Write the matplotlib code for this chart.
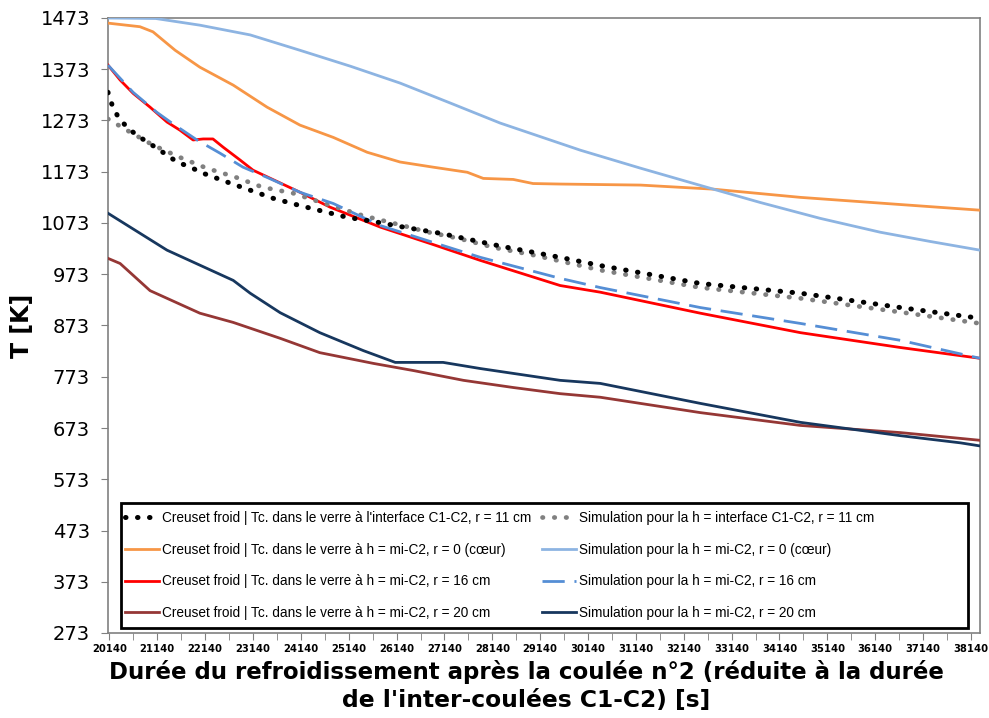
import matplotlib
matplotlib.use("Agg")
import matplotlib.pyplot as plt
from matplotlib.ticker import MultipleLocator, FixedLocator
from matplotlib.patches import Rectangle

# ---------------- data ----------------
t_or = [20110, 20777, 21050, 21514, 22030, 22727, 23434, 24121, 24818, 25526,
        26213, 26900, 27617, 27951, 28577, 28991, 29557, 31235, 32760, 34579,
        36670, 38330]
T_or = [1463, 1456, 1446, 1410, 1377, 1342, 1299, 1264, 1240, 1211,
        1192, 1182, 1172, 1160, 1158, 1150, 1149, 1147, 1139, 1123,
        1109, 1098]

t_lb = [20110, 21110, 22030, 23081, 24121, 25172, 26213, 27264, 28304, 29982,
        31235, 32760, 33740, 34993, 36246, 37287, 38330]
T_lb = [1473, 1472, 1459, 1440, 1410, 1379, 1346, 1307, 1268, 1215,
        1180, 1139, 1113, 1082, 1055, 1037, 1020]

t_red = [20110, 20363, 20635, 20989, 21343, 21615, 21888, 22100, 22303, 22515,
         22868, 23141, 24121, 24748, 25799, 26839, 27890, 29557, 30396, 32487,
         34579, 36670, 38330]
T_red = [1381, 1352, 1326, 1299, 1270, 1254, 1235, 1237, 1237, 1221,
         1196, 1176, 1133, 1104, 1065, 1033, 1000, 951, 938, 897,
         859, 830, 809]

t_bd = [20110, 20635, 21130, 21444, 21969, 22454, 22929, 23434, 24121, 24818,
        25799, 26839, 27890, 29557, 30396, 32487, 34579, 36670, 38330]
T_bd = [1381, 1328, 1289, 1268, 1235, 1209, 1182, 1162, 1133, 1111,
        1068, 1037, 1006, 965, 947, 908, 877, 844, 809]

t_bk = [20110, 20211, 20322, 20504, 20716, 21130, 21555, 21828, 22100, 22596,
        23081, 23566, 24121, 25111, 25657, 26284, 27051, 28304, 29557, 30396,
        32487, 34579, 36670, 38330]
T_bk = [1328, 1299, 1280, 1260, 1244, 1219, 1192, 1182, 1170, 1153,
        1137, 1121, 1107, 1084, 1076, 1065, 1053, 1028, 1006, 990,
        955, 936, 908, 887]

t_gr = [20110, 20504, 21050, 21615, 22171, 22788, 23333, 23980, 24435, 25415,
        26183, 26809, 27435, 28183, 29022, 30396, 32487, 34579, 36670, 38330]
T_gr = [1276, 1254, 1225, 1201, 1180, 1162, 1143, 1131, 1117, 1088,
        1070, 1055, 1043, 1025, 1010, 981, 947, 926, 899, 877]

t_nv = [20110, 21343, 22727, 23081, 23707, 24536, 25445, 26112, 27112, 27890,
        29557, 30396, 32487, 34579, 36670, 37923, 38330]
T_nv = [1092, 1020, 961, 936, 898, 859, 824, 801, 801, 789,
        766, 760, 721, 684, 658, 644, 638]

t_br = [20110, 20363, 20989, 22030, 22727, 23707, 24536, 25657, 26496, 27536,
        28577, 29557, 30396, 32487, 34579, 36670, 38330]
T_br = [1004, 994, 941, 897, 879, 848, 820, 799, 785, 766,
        752, 740, 733, 703, 678, 664, 649]

labels = [
    "Creuset froid | Tc. dans le verre à l'interface C1-C2, r = 11 cm",
    "Simulation pour la h = interface C1-C2, r = 11 cm",
    "Creuset froid | Tc. dans le verre à h = mi-C2, r = 0 (cœur)",
    "Simulation pour la h = mi-C2, r = 0 (cœur)",
    "Creuset froid | Tc. dans le verre à h = mi-C2, r = 16 cm",
    "Simulation pour la h = mi-C2, r = 16 cm",
    "Creuset froid | Tc. dans le verre à h = mi-C2, r = 20 cm",
    "Simulation pour la h = mi-C2, r = 20 cm",
]

yticks = list(range(273, 1474, 100))
xticks = list(range(20140, 38141, 1000))
xlim = (20110, 38330)

# ---------------- figure ----------------
fig = plt.figure(figsize=(9.89, 7.18), dpi=100)
W, H = 989, 718
AX0, AX1, AY0, AY1 = 108, 980, 18, 633
ax = fig.add_axes([AX0 / W, 1 - AY1 / H, (AX1 - AX0) / W, (AY1 - AY0) / H])

def fx(px):
    return (px - AX0) / (AX1 - AX0)

def fy(py):
    return (AY1 - py) / (AY1 - AY0)

h = {}
h[0], = ax.plot(t_bk, T_bk, color="black", lw=3.6, linestyle=(0, (0.1, 2.3)),
                dash_capstyle="round", zorder=5)
h[1], = ax.plot(t_gr, T_gr, color="#808080", lw=3.4, linestyle=(0, (0.1, 2.4)),
                dash_capstyle="round", zorder=4)
h[2], = ax.plot(t_or, T_or, color="#F79646", lw=2.0, zorder=3)
h[3], = ax.plot(t_lb, T_lb, color="#8DB4E2", lw=2.0, zorder=3)
h[4], = ax.plot(t_red, T_red, color="#FF0000", lw=2.0, zorder=3)
h[5], = ax.plot(t_bd, T_bd, color="#558ED5", lw=2.0, linestyle=(0, (8, 3.5)),
                zorder=4)
h[6], = ax.plot(t_br, T_br, color="#953735", lw=2.0, zorder=3)
h[7], = ax.plot(t_nv, T_nv, color="#17375E", lw=2.0, zorder=3)

ax.set_xlim(*xlim)
ax.set_ylim(273, 1473)
ax.yaxis.set_major_locator(FixedLocator(yticks))
ax.xaxis.set_major_locator(FixedLocator(xticks))
ax.xaxis.set_minor_locator(FixedLocator([v + 500 for v in xticks[:-1]]))
ax.set_xticklabels([str(v) for v in xticks], fontsize=7.2, fontweight="bold")
ax.set_yticklabels([str(v) for v in yticks], fontsize=14)

for s in ax.spines.values():
    s.set_color("#808080")
    s.set_linewidth(1.2)
ax.tick_params(axis="both", which="both", colors="#808080", labelcolor="black",
               direction="out")
ax.tick_params(axis="y", length=5, pad=8)
ax.tick_params(axis="x", which="major", length=5, pad=3)
ax.tick_params(axis="x", which="minor", length=5)

fig.text(22 / W, 1 - 326 / H, "T [K]", rotation=90, fontsize=17,
         fontweight="bold", ha="center", va="center")
fig.text(526 / W, 1 - 672 / H,
         "Durée du refroidissement après la coulée n°2 (réduite à la durée",
         fontsize=16.5, fontweight="bold", ha="center", va="center")
fig.text(526 / W, 1 - 700 / H, "de l'inter-coulées C1-C2) [s]",
         fontsize=16.8, fontweight="bold", ha="center", va="center")

# legend: row-major order (matplotlib fills columns first)
order = [0, 2, 4, 6, 1, 3, 5, 7]
leg = ax.legend([h[i] for i in order], [labels[i] for i in order], ncol=2,
                loc="upper left", bbox_to_anchor=(fx(125), fy(511)),
                prop={"family": "Liberation Sans", "size": 9.8},
                frameon=False, handlelength=2.5, handletextpad=0.2,
                borderpad=0.0, labelspacing=1.3, columnspacing=0.8,
                borderaxespad=0)
ax.add_patch(Rectangle((fx(121), fy(628)), fx(968) - fx(121), fy(503) - fy(628),
                       transform=ax.transAxes, facecolor="white",
                       edgecolor="black", lw=2.0, zorder=6))
leg.set_zorder(7)

fig.savefig("out.png", dpi=100)
